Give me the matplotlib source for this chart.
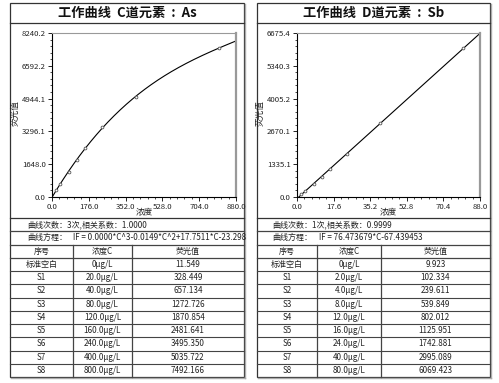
import numpy as np
import matplotlib
matplotlib.use("Agg")
import matplotlib.pyplot as plt
from matplotlib.patches import Rectangle

plt.rcParams['font.family'] = ['Noto Sans CJK SC', 'DejaVu Sans']

# ---------------- data ----------------
as_title = "工作曲线  C道元素  :  As"
as_conc = [0, 20.0, 40.0, 80.0, 120.0, 160.0, 240.0, 400.0, 800.0]
as_fluo = [11.549, 328.449, 657.134, 1272.726, 1870.854, 2481.641, 3495.350, 5035.722, 7492.166]
as_conc_labels = ["0μg/L", "20.0μg/L", "40.0μg/L", "80.0μg/L", "120.0μg/L",
                  "160.0μg/L", "240.0μg/L", "400.0μg/L", "800.0μg/L"]
as_fluo_labels = ["11.549", "328.449", "657.134", "1272.726", "1870.854",
                  "2481.641", "3495.350", "5035.722", "7492.166"]
as_xticks = ["0.0", "176.0", "352.0", "528.0", "704.0", "880.0"]
as_yticks = ["0.0", "1648.0", "3296.1", "4944.1", "6592.2", "8240.2"]
as_xmax, as_ymax = 880.0, 8240.2
as_info = "曲线次数：3次,相关系数：1.0000"
as_eq = "IF = 0.0000*C^3-0.0149*C^2+17.7511*C-23.298"
as_degree = 3

sb_title = "工作曲线  D道元素  :  Sb"
sb_conc = [0, 2.0, 4.0, 8.0, 12.0, 16.0, 24.0, 40.0, 80.0]
sb_fluo = [9.923, 102.334, 239.611, 539.849, 802.012, 1125.951, 1742.881, 2995.089, 6069.423]
sb_conc_labels = ["0μg/L", "2.0μg/L", "4.0μg/L", "8.0μg/L", "12.0μg/L",
                  "16.0μg/L", "24.0μg/L", "40.0μg/L", "80.0μg/L"]
sb_fluo_labels = ["9.923", "102.334", "239.611", "539.849", "802.012",
                  "1125.951", "1742.881", "2995.089", "6069.423"]
sb_xticks = ["0.0", "17.6", "35.2", "52.8", "70.4", "88.0"]
sb_yticks = ["0.0", "1335.1", "2670.1", "4005.2", "5340.3", "6675.4"]
sb_xmax, sb_ymax = 88.0, 6675.4
sb_info = "曲线次数：1次,相关系数：0.9999"
sb_eq = "IF = 76.473679*C-67.439453"
sb_degree = 1

row_names = ["标准空白", "S1", "S2", "S3", "S4", "S5", "S6", "S7", "S8"]
headers = ["序号", "浓度C", "荧光值"]

# ---------------- figure ----------------
W, H = 499, 383
fig = plt.figure(figsize=(W / 100, H / 100), dpi=100)
ov = fig.add_axes([0, 0, 1, 1])
ov.set_xlim(0, W)
ov.set_ylim(H, 0)
ov.axis('off')
ov.set_zorder(0)

def px_axes(l, t, r, b):
    return fig.add_axes([l / W, 1 - b / H, (r - l) / W, (b - t) / H])

EDGE = '#333333'
TXT = '#222222'
FS = 5.8

def panel(L, R, ax_l, ax_r, title, conc, fluo, conc_lab, fluo_lab, xt, yt,
          xmax, ymax, info, eq, deg, cols, info_x, eq_x):
    top, title_b, sep = 3, 23, 218
    rh = 13.25
    nrows = 12
    bot = sep + rh * nrows
    # outer frame
    ov.add_patch(Rectangle((L, top), R - L, bot - top, fill=False, ec=EDGE, lw=0.9))
    ov.plot([L + 1, R + 1], [bot + 1, bot + 1], color='#aaaaaa', lw=1.0)
    ov.plot([R + 1, R + 1], [top + 1, bot + 1], color='#aaaaaa', lw=1.0)
    ov.plot([L, R], [title_b, title_b], color=EDGE, lw=0.9)
    ov.text((L + R) / 2, 13, title, ha='center', va='center', fontsize=9.5,
            fontweight='bold', color='#111111')
    ov.plot([L, R], [sep, sep], color=EDGE, lw=0.9)
    # rows
    for i in range(1, nrows):
        y = sep + rh * i
        ov.plot([L, R], [y, y], color='#444444', lw=0.8 if i > 3 else 0.9)
    for cx in cols[1:-1]:
        ov.plot([cx, cx], [sep + rh * 2, bot], color='#444444', lw=0.9)
    ov.text(info_x, sep + rh * 0.5, info, ha='left', va='center', fontsize=FS, color=TXT)
    ov.text(info_x, sep + rh * 1.5, "曲线方程：", ha='left', va='center',
            fontsize=FS, color=TXT)
    t3 = ov.text(eq_x, sep + rh * 1.5, eq, ha='left', va='center', fontsize=FS, color=TXT)
    clip = Rectangle((L, top), R - L + 1, bot - top, transform=ov.transData, visible=False)
    ov.add_patch(clip)
    t3.set_clip_path(clip)
    centers = [(cols[i] + cols[i + 1]) / 2 for i in range(3)]
    for j, h in enumerate(headers):
        ov.text(centers[j], sep + rh * 2.5, h, ha='center', va='center', fontsize=FS, color=TXT)
    for i in range(len(row_names)):
        y = sep + rh * (3.5 + i)
        ov.text(centers[0], y, row_names[i], ha='center', va='center', fontsize=FS, color=TXT)
        ov.text(centers[1], y, conc_lab[i], ha='center', va='center', fontsize=FS, color=TXT)
        ov.text(centers[2], y, fluo_lab[i], ha='center', va='center', fontsize=FS, color=TXT)

    # plot
    ax = px_axes(ax_l, 33, ax_r, 197)
    ax.set_zorder(2)
    coef = np.polyfit(conc, fluo, deg)
    xs = np.linspace(0, xmax, 300)
    ys = np.polyval(coef, xs)
    ax.plot(xs, ys, color='black', lw=0.8)
    ax.plot(conc[1:], fluo[1:], 'o', ms=2.0, mfc='white', mec='#555555', mew=0.6)
    ax.set_xlim(0, xmax)
    ax.set_ylim(0, ymax)
    ax.set_xticks(np.linspace(0, xmax, len(xt)))
    ax.set_xticklabels(xt)
    ax.set_yticks(np.linspace(0, ymax, len(yt)))
    ax.set_yticklabels(yt)
    ax.set_xticks(np.linspace(0, xmax, 5 * 5 + 1), minor=True)
    ax.set_yticks(np.linspace(0, ymax, 5 * 5 + 1), minor=True)
    ax.tick_params(which='major', length=3, width=0.6, labelsize=5.6, pad=1.5,
                   colors='black', labelcolor=TXT)
    ax.tick_params(which='minor', length=1.5, width=0.5)
    for s in ['left', 'bottom']:
        ax.spines[s].set_color('black')
        ax.spines[s].set_linewidth(0.8)
    ax.spines['top'].set_color('#999999')
    ax.spines['top'].set_linewidth(0.8)
    ax.spines['right'].set_color('#999999')
    ax.spines['right'].set_linewidth(1.6)
    ax.patch.set_alpha(0)
    ov.text((ax_l + ax_r) / 2, 213, "浓度", ha='center', va='center', fontsize=6.2, color=TXT)
    ov.text(ax_l - 37, 113, "荧光值", ha='center', va='center', fontsize=6.2,
            rotation=90, color=TXT)

panel(10, 244, 52, 236, as_title, as_conc, as_fluo, as_conc_labels, as_fluo_labels,
      as_xticks, as_yticks, as_xmax, as_ymax, as_info, as_eq, as_degree,
      [10, 73, 132, 244], 27, 73)
panel(257, 490, 297, 480, sb_title, sb_conc, sb_fluo, sb_conc_labels, sb_fluo_labels,
      sb_xticks, sb_yticks, sb_xmax, sb_ymax, sb_info, sb_eq, sb_degree,
      [257, 317, 381, 490], 272, 319)

fig.savefig("out.png", dpi=100)
